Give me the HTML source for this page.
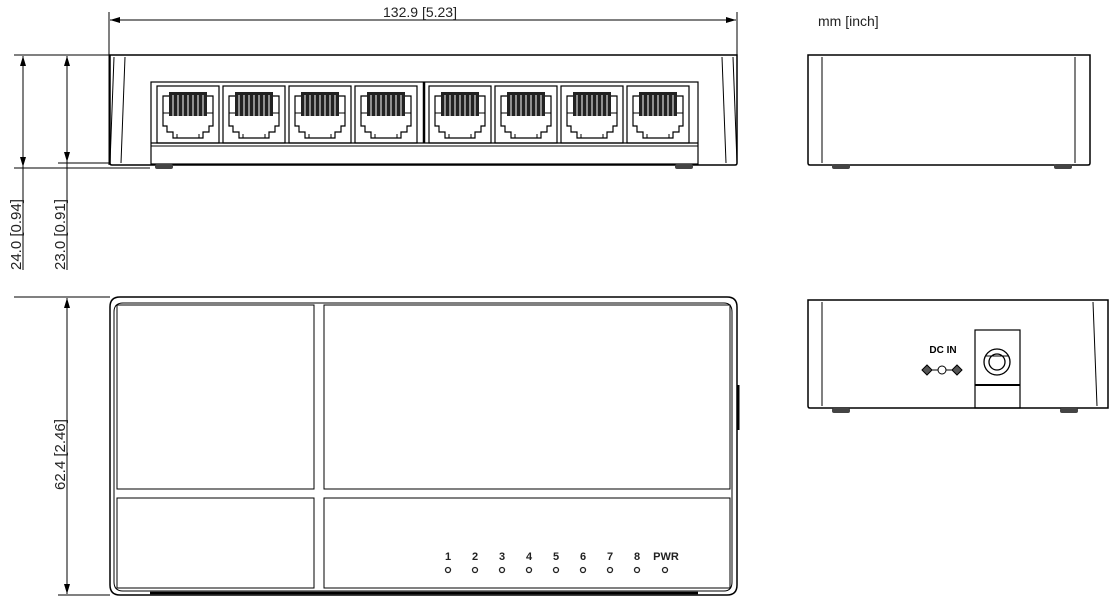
<!DOCTYPE html>
<html><head><meta charset="utf-8"><style>
html,body{margin:0;padding:0;background:#fff}
svg{display:block}
text{font-family:"Liberation Sans",sans-serif}
</style></head><body>
<svg width="1117" height="603" viewBox="0 0 1117 603" xmlns="http://www.w3.org/2000/svg">
<defs>
<marker id="a" viewBox="0 0 10 6" refX="10" refY="3" markerWidth="10" markerHeight="6" orient="auto-start-reverse" markerUnits="userSpaceOnUse"><path d="M0,0 L10,3 L0,6z" fill="#000"/></marker>
<g id="port">
<rect x="0" y="0" width="62" height="57" fill="none" stroke="#000" stroke-width="1.2"/>
<path d="M6,10 H56 V40 H52 V46 H46 V52 H16 V46 H10 V40 H6 Z" fill="none" stroke="#000" stroke-width="1.2"/>
<line x1="6" y1="27" x2="56" y2="27" stroke="#000"/>
<rect x="12" y="6" width="38" height="24" fill="#222"/>
<g stroke="#fff" stroke-width="1"><line x1="16" y1="9" x2="16" y2="30"/><line x1="21" y1="9" x2="21" y2="30"/><line x1="26" y1="9" x2="26" y2="30"/><line x1="31" y1="9" x2="31" y2="30"/><line x1="36" y1="9" x2="36" y2="30"/><line x1="41" y1="9" x2="41" y2="30"/><line x1="46" y1="9" x2="46" y2="30"/></g>
<line x1="20" y1="52" x2="20" y2="48" stroke="#000"/><line x1="42" y1="52" x2="42" y2="48" stroke="#000"/>
</g>
</defs>
<g fill="none" stroke="#000" stroke-width="1">
<line x1="109" y1="12" x2="109" y2="165"/>
<line x1="737" y1="12" x2="737" y2="55"/>
<line x1="110" y1="20" x2="736" y2="20" marker-start="url(#a)" marker-end="url(#a)"/>
<line x1="14" y1="55" x2="110" y2="55"/>
<line x1="14" y1="168" x2="150" y2="168"/>
<line x1="58" y1="163" x2="110" y2="163"/>
<line x1="23" y1="56" x2="23" y2="270" />
<line x1="23" y1="56" x2="23" y2="167" marker-start="url(#a)" marker-end="url(#a)"/>
<line x1="67" y1="56" x2="67" y2="270"/>
<line x1="67" y1="56" x2="67" y2="162" marker-start="url(#a)" marker-end="url(#a)"/>
<path d="M110,55 H737 L737,163 Q737,165 735,165 H112 Q110,165 110,163 Z" stroke-width="1.5"/>
<line x1="114" y1="57" x2="110" y2="163"/><line x1="125" y1="57" x2="121" y2="163"/>
<line x1="733" y1="57" x2="737" y2="163"/><line x1="722" y1="57" x2="726" y2="163"/>
<rect x="151" y="82" width="547" height="82" stroke-width="1.2"/>
<line x1="151" y1="143" x2="698" y2="143" stroke-width="1.2"/>
<line x1="151" y1="146" x2="698" y2="146"/>
<line x1="424" y1="82" x2="424" y2="143" stroke-width="2.5"/>
</g>
<g fill="#444"><rect x="155" y="164" width="18" height="5" rx="2"/><rect x="675" y="164" width="18" height="5" rx="2"/></g>
<use href="#port" x="157" y="86"/><use href="#port" x="223" y="86"/><use href="#port" x="289" y="86"/><use href="#port" x="355" y="86"/>
<use href="#port" x="429" y="86"/><use href="#port" x="495" y="86"/><use href="#port" x="561" y="86"/><use href="#port" x="627" y="86"/>
<text x="420" y="17" font-size="14" text-anchor="middle" fill="#222">132.9  [5.23]</text>
<text x="818" y="26" font-size="14" fill="#222">mm [inch]</text>
<text transform="translate(21,270) rotate(-90)" font-size="15" fill="#222">24.0  [0.94]</text>
<text transform="translate(65,270) rotate(-90)" font-size="15" fill="#222">23.0  [0.91]</text>
<g fill="none" stroke="#000">
<path d="M808,55 H1090 V163 Q1090,165 1088,165 H810 Q808,165 808,163 Z" stroke-width="1.5"/>
<line x1="822" y1="57" x2="822" y2="163"/><line x1="1075" y1="57" x2="1075" y2="163"/>
</g>
<g fill="#444"><rect x="832" y="164" width="18" height="5" rx="2"/><rect x="1054" y="164" width="18" height="5" rx="2"/></g>
<g fill="none" stroke="#000">
<path d="M110,307 Q110,297 120,297 H727 Q737,297 737,307 V585 Q737,595 727,595 H120 Q110,595 110,585 Z" stroke-width="1.5"/>
<path d="M114,312 Q114,303 123,303 H724 Q732,303 732,312 V582 Q732,591 724,591 H123 Q114,591 114,582 Z"/>
<rect x="117" y="305" width="197" height="184"/>
<rect x="324" y="305" width="406" height="184"/>
<rect x="117" y="498" width="197" height="90"/>
<rect x="324" y="498" width="406" height="90"/>
<line x1="150" y1="593" x2="698" y2="593" stroke-width="2.5"/>
<line x1="738" y1="385" x2="738" y2="430" stroke-width="3"/>
<line x1="14" y1="297" x2="110" y2="297"/><line x1="58" y1="595" x2="110" y2="595"/>
<line x1="67" y1="298" x2="67" y2="594" marker-start="url(#a)" marker-end="url(#a)"/>
</g>
<text transform="translate(65,490) rotate(-90)" font-size="15" fill="#222">62.4  [2.46]</text>
<g font-size="11" font-weight="bold" text-anchor="middle" fill="#222">
<text x="448" y="560">1</text><text x="475" y="560">2</text><text x="502" y="560">3</text><text x="529" y="560">4</text><text x="556" y="560">5</text><text x="583" y="560">6</text><text x="610" y="560">7</text><text x="637" y="560">8</text><text x="666" y="560">PWR</text>
</g>
<g fill="none" stroke="#222" stroke-width="1.3">
<circle cx="448" cy="570" r="2.5"/><circle cx="475" cy="570" r="2.5"/><circle cx="502" cy="570" r="2.5"/><circle cx="529" cy="570" r="2.5"/><circle cx="556" cy="570" r="2.5"/><circle cx="583" cy="570" r="2.5"/><circle cx="610" cy="570" r="2.5"/><circle cx="637" cy="570" r="2.5"/><circle cx="665" cy="570" r="2.5"/>
</g>
<g fill="none" stroke="#000">
<path d="M808,300 H1108 V408 H810 Q808,408 808,406 Z" stroke-width="1.5"/>
<line x1="822" y1="302" x2="822" y2="406"/><line x1="1093" y1="302" x2="1097" y2="406"/>
<rect x="975" y="330" width="45" height="78" stroke-width="1.2"/>
<line x1="975" y1="385" x2="1020" y2="385" stroke-width="2"/>
<circle cx="997" cy="362" r="13" stroke-width="1.3"/>
<circle cx="997" cy="362" r="8" stroke-width="1.3"/>
<line x1="986" y1="356" x2="1008" y2="356"/>
<circle cx="942" cy="370" r="4"/>
<path d="M922,370 L927,365 L932,370 L927,375Z M952,370 L957,365 L962,370 L957,375Z" fill="#555"/>
<line x1="932" y1="370" x2="938" y2="370"/><line x1="946" y1="370" x2="952" y2="370"/>
</g>
<g fill="#444"><rect x="832" y="408" width="18" height="5" rx="2"/><rect x="1060" y="408" width="18" height="5" rx="2"/></g>
<text x="943" y="353" font-size="10" font-weight="bold" text-anchor="middle">DC IN</text>
</svg>
</body></html>
